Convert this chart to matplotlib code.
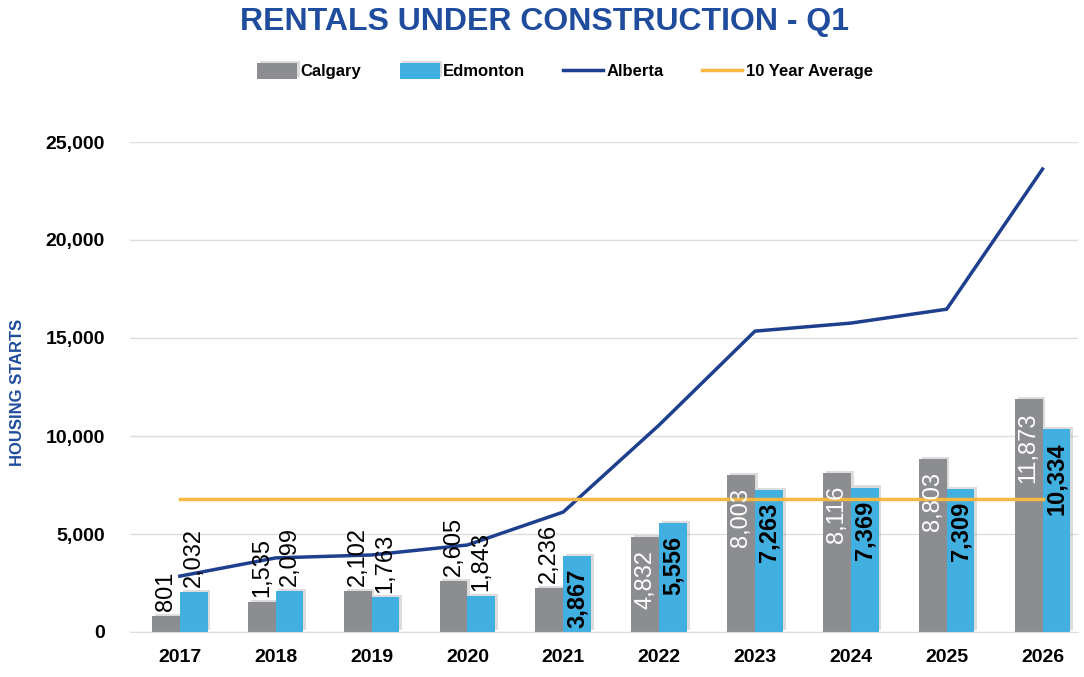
import matplotlib
matplotlib.use("Agg")
import matplotlib.pyplot as plt
import matplotlib.patheffects as pe
import numpy as np

# ===== data =====
years = ["2017", "2018", "2019", "2020", "2021", "2022", "2023", "2024", "2025", "2026"]
calgary = [801, 1535, 2102, 2605, 2236, 4832, 8003, 8116, 8803, 11873]
edmonton = [2032, 2099, 1763, 1843, 3867, 5556, 7263, 7369, 7309, 10334]
alberta = [2850, 3780, 3930, 4440, 6120, 10560, 15350, 15760, 16470, 23620]
ten_year_avg = 6790

# label placement: True = inside bar top
calgary_inside = [False, False, False, False, False, True, True, True, True, True]
edmonton_inside = [False, False, False, False, True, True, True, True, True, True]

# ===== style =====
c_gray = "#8B8D90"
c_blue = "#41AFE0"
c_navy = "#1E3F8E"
c_orange = "#F7B843"
title_blue = "#1F4C9C"

plt.rcParams["font.family"] = ["Liberation Sans", "DejaVu Sans"]

fig = plt.figure(figsize=(10.84, 6.77), dpi=100)
ax = fig.add_axes([130 / 1084, 45 / 677, 948 / 1084, 490 / 677])

x = np.arange(len(years))
w = 0.29
shadow = [pe.SimplePatchShadow(offset=(2, 1.5), shadow_rgbFace="#777777", alpha=0.25), pe.Normal()]

b1 = ax.bar(x - w / 2, calgary, w, color=c_gray, label="Calgary", zorder=2)
b2 = ax.bar(x + w / 2, edmonton, w, color=c_blue, label="Edmonton", zorder=2)
for b in list(b1) + list(b2):
    b.set_path_effects(shadow)

l1, = ax.plot(x, alberta, color=c_navy, lw=2.5, label="Alberta", zorder=3)
l2, = ax.plot([x[0], x[-1]], [ten_year_avg, ten_year_avg], color=c_orange, lw=2.5,
              label="10 Year Average", zorder=3)

# value labels
for i in range(len(years)):
    v = calgary[i]
    if calgary_inside[i]:
        ax.text(x[i] - w / 2, v - 650, f"{v:,}", rotation=90, ha="center", va="top",
                color="white", fontsize=17, zorder=4)
    else:
        ax.text(x[i] - w / 2, v + 250, f"{v:,}", rotation=90, ha="center", va="bottom",
                color="black", fontsize=17, zorder=4)
    v = edmonton[i]
    if edmonton_inside[i]:
        ax.text(x[i] + w / 2, v - 650, f"{v:,}", rotation=90, ha="center", va="top",
                color="black", fontsize=17, fontweight="bold", zorder=4)
    else:
        ax.text(x[i] + w / 2, v + 250, f"{v:,}", rotation=90, ha="center", va="bottom",
                color="black", fontsize=17, zorder=4)

ax.set_xlim(-0.52, 9.37)
ax.set_ylim(0, 25000)
ax.set_yticks(range(0, 25001, 5000))
ax.set_yticklabels([f"{t:,}" for t in range(0, 25001, 5000)], fontsize=14, fontweight="bold")
ax.set_xticks(x)
ax.set_xticklabels(years, fontsize=14, fontweight="bold")
ax.tick_params(axis="y", length=0, pad=18)
ax.tick_params(axis="x", length=0, pad=12)
ax.grid(axis="y", color="#DDDDDD", lw=1, zorder=0)
ax.set_axisbelow(True)
for s in ["top", "right", "left"]:
    ax.spines[s].set_visible(False)
ax.spines["bottom"].set_color("#DDDDDD")

fig.text(18 / 1084, 1 - 392 / 677, "HOUSING STARTS", rotation=90, ha="center", va="center",
         color=title_blue, fontsize=12, fontweight="bold")

fig.text(545 / 1084, 1 - 22 / 677, "RENTALS UNDER CONSTRUCTION - Q1", ha="center", va="center",
         color=title_blue, fontsize=23, fontweight="bold")

fig.legend(handles=[b1, b2, l1, l2], loc="center", bbox_to_anchor=(565 / 1084, 1 - 71 / 677),
           ncol=4, frameon=False, prop={"weight": "bold", "size": 12}, handlelength=2.4,
           handleheight=1.1, handletextpad=0.2, columnspacing=2.3)

fig.savefig("out.png", dpi=100)
